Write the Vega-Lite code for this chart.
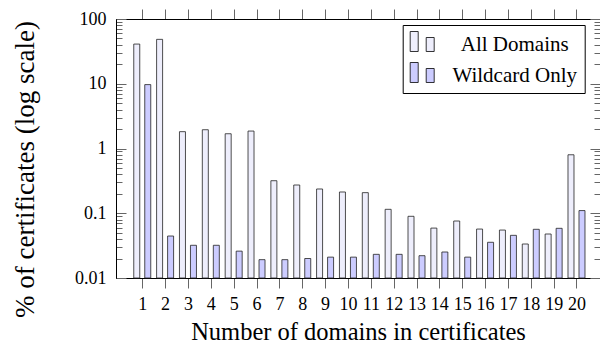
{
  "$schema": "https://vega.github.io/schema/vega-lite/v6.json",
  "width": 484,
  "height": 259,
  "autosize": {"type": "none"},
  "padding": {"left": 116, "top": 19, "right": 0, "bottom": 67},
  "background": "white",
  "config": {
    "view": {"stroke": "black", "strokeWidth": 1},
    "font": "Liberation Serif",
    "axis": {
      "grid": false,
      "domainColor": "black",
      "domainWidth": 1,
      "tickColor": "#666666",
      "tickWidth": 1,
      "labelColor": "black",
      "labelFont": "Liberation Serif",
      "labelFontSize": 18,
      "labelFlush": false,
      "labelOverlap": false,
      "labelBound": false,
      "titleFont": "Liberation Serif",
      "titleFontSize": 24.5,
      "titleFontWeight": "normal",
      "titleColor": "black"
    }
  },
  "data": {
    "values": [
      {"n": 1, "series": "All Domains", "pct": 41},
      {"n": 2, "series": "All Domains", "pct": 48.5},
      {"n": 3, "series": "All Domains", "pct": 1.82},
      {"n": 4, "series": "All Domains", "pct": 1.95},
      {"n": 5, "series": "All Domains", "pct": 1.69},
      {"n": 6, "series": "All Domains", "pct": 1.86},
      {"n": 7, "series": "All Domains", "pct": 0.318},
      {"n": 8, "series": "All Domains", "pct": 0.273},
      {"n": 9, "series": "All Domains", "pct": 0.237},
      {"n": 10, "series": "All Domains", "pct": 0.213},
      {"n": 11, "series": "All Domains", "pct": 0.208},
      {"n": 12, "series": "All Domains", "pct": 0.115},
      {"n": 13, "series": "All Domains", "pct": 0.0897},
      {"n": 14, "series": "All Domains", "pct": 0.059},
      {"n": 15, "series": "All Domains", "pct": 0.0759},
      {"n": 16, "series": "All Domains", "pct": 0.057},
      {"n": 17, "series": "All Domains", "pct": 0.055},
      {"n": 18, "series": "All Domains", "pct": 0.0335},
      {"n": 19, "series": "All Domains", "pct": 0.0478},
      {"n": 20, "series": "All Domains", "pct": 0.8},
      {"n": 1, "series": "Wildcard Only", "pct": 9.7},
      {"n": 2, "series": "Wildcard Only", "pct": 0.0445},
      {"n": 3, "series": "Wildcard Only", "pct": 0.032},
      {"n": 4, "series": "Wildcard Only", "pct": 0.032},
      {"n": 5, "series": "Wildcard Only", "pct": 0.026},
      {"n": 6, "series": "Wildcard Only", "pct": 0.0192},
      {"n": 7, "series": "Wildcard Only", "pct": 0.0192},
      {"n": 8, "series": "Wildcard Only", "pct": 0.02},
      {"n": 9, "series": "Wildcard Only", "pct": 0.021},
      {"n": 10, "series": "Wildcard Only", "pct": 0.021},
      {"n": 11, "series": "Wildcard Only", "pct": 0.0232},
      {"n": 12, "series": "Wildcard Only", "pct": 0.0232},
      {"n": 13, "series": "Wildcard Only", "pct": 0.0221},
      {"n": 14, "series": "Wildcard Only", "pct": 0.0252},
      {"n": 15, "series": "Wildcard Only", "pct": 0.021},
      {"n": 16, "series": "Wildcard Only", "pct": 0.0356},
      {"n": 17, "series": "Wildcard Only", "pct": 0.0456},
      {"n": 18, "series": "Wildcard Only", "pct": 0.0565},
      {"n": 19, "series": "Wildcard Only", "pct": 0.0585},
      {"n": 20, "series": "Wildcard Only", "pct": 0.11}
    ]
  },
  "encoding": {
    "y2": {"datum": 0.01},
    "color": {
      "field": "series",
      "type": "nominal",
      "scale": {"domain": ["All Domains", "Wildcard Only"], "range": ["#eeeefc", "#ccccff"]},
      "legend": {
        "title": null,
        "orient": "none",
        "legendX": 286.7,
        "legendY": 6,
        "fillColor": "white",
        "strokeColor": "black",
        "padding": 7,
        "rowPadding": 5,
        "symbolType": "M-1,-1.083H-0.333V0.583H-1Z M0.333,-0.583H1V0.583H0.333Z",
        "symbolSize": 576,
        "symbolStrokeColor": "black",
        "symbolStrokeWidth": 0.8,
        "labelFont": "Liberation Serif",
        "labelFontSize": 21,
        "labelColor": "black",
        "labelAlign": "center",
        "labelOffset": 80,
        "labelLimit": 300
      }
    }
  },
  "layer": [
    {
      "transform": [{"filter": "datum.series == 'All Domains'"}],
      "mark": {"type": "bar", "width": 6, "xOffset": -5.5, "stroke": "#222222", "strokeWidth": 0.8},
      "encoding": {
        "x": {
          "field": "n",
          "type": "quantitative",
          "scale": {"domain": [0.07, 20.81], "nice": false, "zero": false},
          "axis": {
            "orient": "bottom",
            "values": [1,2,3,4,5,6,7,8,9,10,11,12,13,14,15,16,17,18,19,20],
            "format": "d",
            "tickSize": 10,
            "tickColor": "#666666",
            "labelPadding": 7,
            "title": "Number of domains in certificates",
            "titleY": 61,
            "titleBaseline": "alphabetic"
          }
        },
        "y": {
          "field": "pct",
          "type": "quantitative",
          "scale": {"type": "log", "domain": [0.01, 100], "nice": false},
          "axis": {
            "orient": "left",
            "values": [0.01,0.02,0.03,0.04,0.05,0.06,0.07,0.08,0.09,0.1,0.2,0.3,0.4,0.5,0.6,0.7,0.8,0.9,1,2,3,4,5,6,7,8,9,10,20,30,40,50,60,70,80,90,100],
            "tickSize": {"condition": {"test": "indexof([0.01,0.1,1,10,100], datum.value) >= 0", "value": -10}, "value": -6},
            "tickColor": "#666666",
            "labelExpr": "indexof([0.01,0.1,1,10,100], datum.value) >= 0 ? format(datum.value, '~g') : ''",
            "labelPadding": 20,
            "title": "% of certificates (log scale)",
            "titleFontSize": 27,
            "titleX": -83,
            "titleY": 150,
            "titleBaseline": "alphabetic"
          }
        }
      }
    },
    {
      "transform": [{"filter": "datum.series == 'Wildcard Only'"}],
      "mark": {"type": "bar", "width": 6, "xOffset": 5.5, "stroke": "#222222", "strokeWidth": 0.8},
      "encoding": {
        "x": {
          "field": "n",
          "type": "quantitative",
          "scale": {"domain": [0.07, 20.81], "nice": false, "zero": false},
          "axis": {
            "orient": "top",
            "values": [1,2,3,4,5,6,7,8,9,10,11,12,13,14,15,16,17,18,19,20],
            "labels": false,
            "tickSize": 10,
            "tickColor": "#666666",
            "title": null
          }
        },
        "y": {
          "field": "pct",
          "type": "quantitative",
          "scale": {"type": "log", "domain": [0.01, 100], "nice": false},
          "axis": {
            "orient": "right",
            "values": [0.01,0.02,0.03,0.04,0.05,0.06,0.07,0.08,0.09,0.1,0.2,0.3,0.4,0.5,0.6,0.7,0.8,0.9,1,2,3,4,5,6,7,8,9,10,20,30,40,50,60,70,80,90,100],
            "tickSize": {"condition": {"test": "indexof([0.01,0.1,1,10,100], datum.value) >= 0", "value": -10}, "value": -6},
            "tickColor": "#666666",
            "labels": false,
            "title": null
          }
        }
      }
    }
  ],
  "resolve": {"axis": {"x": "independent", "y": "independent"}}
}
